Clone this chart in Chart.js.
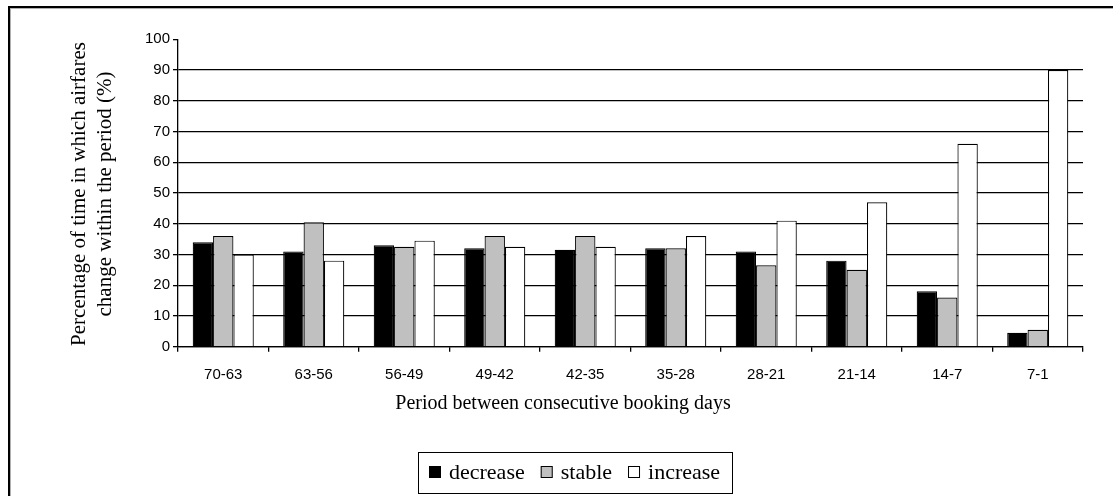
<!DOCTYPE html>
<html>
<head>
<meta charset="utf-8">
<script src="https://cdn.jsdelivr.net/npm/chart.js@4.4.0/dist/chart.umd.min.js"></script>
<style>
  html, body { margin: 0; padding: 0; background: #ffffff; }
  #wrap { width: 1113px; height: 496px; position: relative; }
</style>
</head>
<body>
<div id="wrap"><canvas id="c" width="1113" height="496"></canvas></div>
<script>
// Booking periods (days before departure) and share of time fares moved in each
const periods = ['70-63', '63-56', '56-49', '49-42', '42-35', '35-28', '28-21', '21-14', '14-7', '7-1'];
const decreaseValues = [34, 31, 33, 32, 31.5, 32, 31, 28, 18, 4.5];
const stableValues   = [36, 40.5, 32.5, 36, 36, 32, 26.5, 25, 16, 5.5];
const increaseValues = [30, 28, 34.5, 32.5, 32.5, 36, 41, 47, 66, 90];
const seriesNames  = ['decrease', 'stable', 'increase'];
const seriesColors = ['#000000', '#c0c0c0', '#ffffff'];
const yTickValues  = [0, 10, 20, 30, 40, 50, 60, 70, 80, 90, 100];
const yTitleLines  = ['Percentage of time in which airfares', 'change within the period (%)'];
const xTitleText   = 'Period between consecutive booking days';

const SANS  = '"Liberation Sans", Arial, sans-serif';
const SERIF = '"Liberation Serif", "Times New Roman", serif';

// Frame, rotated/centred axis titles and the boxed legend
const decorations = {
  id: 'decorations',
  beforeDraw(chart) {
    const ctx = chart.ctx;
    ctx.save();
    ctx.fillStyle = '#ffffff';
    ctx.fillRect(0, 0, chart.width, chart.height);
    // outer frame (left and top edges)
    ctx.fillStyle = '#000000';
    ctx.fillRect(8, 6, 2, chart.height - 6);
    ctx.fillRect(8, 6, chart.width - 8, 2);
    ctx.fillStyle = '#b0b0b0';
    ctx.fillRect(10, 8, 1, chart.height - 8);
    ctx.fillRect(10, 8, chart.width - 10, 1);
    ctx.restore();
  },
  afterDraw(chart) {
    const ctx = chart.ctx;
    const area = chart.chartArea;
    ctx.save();
    ctx.fillStyle = '#000000';
    ctx.textBaseline = 'middle';
    ctx.textAlign = 'center';

    // y-axis title, two rotated lines
    ctx.font = '21px ' + SERIF;
    const yMid = (area.top + area.bottom) / 2;
    const yLineX = [79, 105];
    yTitleLines.forEach((line, i) => {
      ctx.save();
      ctx.translate(yLineX[i], yMid + 1);
      ctx.rotate(-Math.PI / 2);
      ctx.fillText(line, 0, 0);
      ctx.restore();
    });

    // x-axis title
    ctx.font = '20px ' + SERIF;
    ctx.fillText(xTitleText, 563, 404);

    // legend
    ctx.font = '22px ' + SERIF;
    const box = 12, gap = 8, itemGap = 16, pad = 11;
    const widths = seriesNames.map(n => box + gap + ctx.measureText(n).width);
    const total = widths.reduce((a, b) => a + b, 0) + itemGap * (seriesNames.length - 1);
    const cx = 575, cy = 472;
    const left = Math.round(cx - total / 2 - pad);
    const right = Math.round(cx + total / 2 + pad);
    ctx.strokeStyle = '#000000';
    ctx.lineWidth = 1;
    ctx.strokeRect(left + 0.5, 452.5, right - left, 41);
    let x = left + pad;
    ctx.textAlign = 'left';
    chart.data.datasets.forEach((ds, i) => {
      ctx.fillStyle = ds.backgroundColor;
      ctx.fillRect(x, cy - box / 2, box, box);
      ctx.strokeStyle = '#000000';
      ctx.strokeRect(x + 0.5, cy - box / 2 + 0.5, box - 1, box - 1);
      ctx.fillStyle = '#000000';
      ctx.fillText(ds.label, x + box + gap, cy + 1);
      x += widths[i] + itemGap;
    });
    ctx.restore();
  }
};

const seriesValues = [decreaseValues, stableValues, increaseValues];

new Chart(document.getElementById('c'), {
  type: 'bar',
  data: {
    labels: periods,
    datasets: seriesNames.map((name, i) => ({
      label: name,
      data: seriesValues[i],
      backgroundColor: seriesColors[i],
      borderColor: '#000000',
      borderWidth: 1.2,
      barPercentage: 1.0,
      categoryPercentage: 0.675
    }))
  },
  options: {
    responsive: false,
    animation: false,
    devicePixelRatio: 1,
    layout: { padding: { left: 60, top: 39.3, right: 30, bottom: 496 - 346.7 - 40 } },
    plugins: {
      legend: { display: false },
      tooltip: { enabled: false }
    },
    scales: {
      x: {
        type: 'category',
        offset: true,
        afterFit(scale) { scale.height = 40; },
        grid: {
          offset: true,
          drawOnChartArea: false,
          drawTicks: true,
          tickLength: 5,
          tickColor: '#000000',
          color: '#000000',
          lineWidth: 1.3
        },
        border: { display: true, color: '#000000', width: 1.3 },
        ticks: {
          color: '#000000',
          font: { family: SANS, size: 15 },
          padding: 14,
          maxRotation: 0,
          autoSkip: false
        }
      },
      y: {
        min: 0,
        max: 100,
        afterFit(scale) { scale.width = 118; },
        afterBuildTicks(scale) { scale.ticks = yTickValues.map(v => ({ value: v })); },
        grid: {
          color: (c) => (c.tick && c.tick.value === 100) ? 'rgba(0,0,0,0)' : '#000000',
          lineWidth: 1.3,
          tickLength: 5,
          tickColor: '#000000'
        },
        border: { display: true, color: '#000000', width: 1.3 },
        ticks: {
          color: '#000000',
          font: { family: SANS, size: 15 },
          padding: 3
        }
      }
    }
  },
  plugins: [decorations]
});
</script>
</body>
</html>
